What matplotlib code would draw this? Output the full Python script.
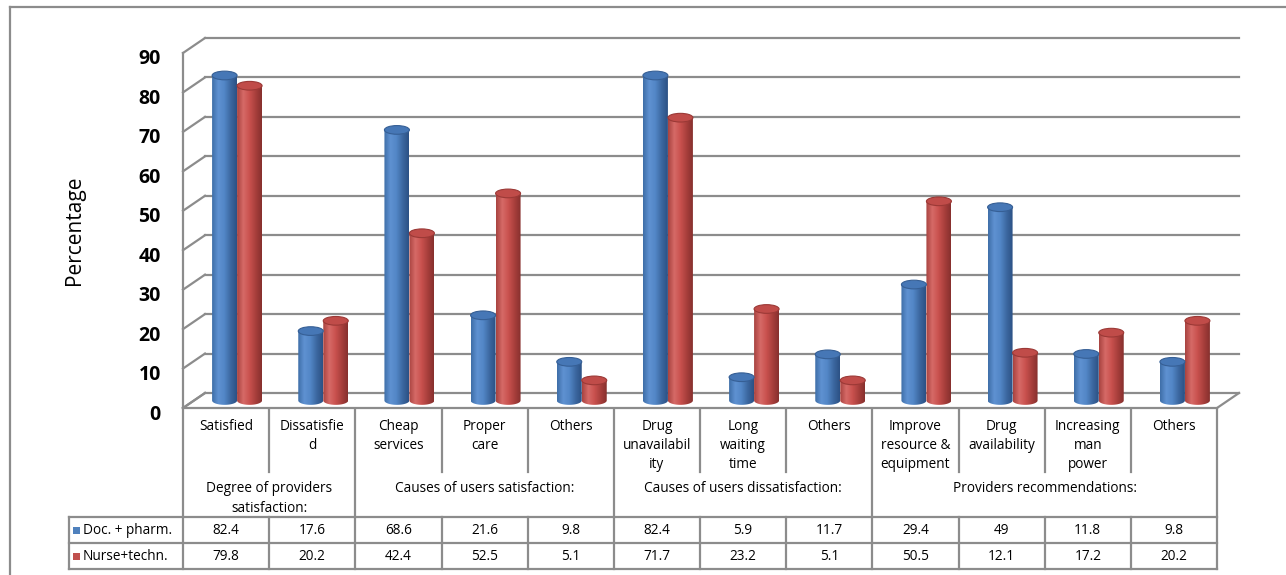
import numpy as np
import matplotlib
matplotlib.use("Agg")
import matplotlib.pyplot as plt
from matplotlib.patches import Ellipse, PathPatch, Rectangle
from matplotlib.path import Path
from matplotlib.colors import LinearSegmentedColormap
from matplotlib.lines import Line2D
import matplotlib.transforms as mtrans

# ---------------- data ----------------
categories = ["Satisfied", "Dissatisfie\nd", "Cheap\nservices", "Proper\ncare", "Others",
              "Drug\nunavailabil\nity", "Long\nwaiting\ntime", "Others",
              "Improve\nresource &\nequipment", "Drug\navailability", "Increasing\nman\npower", "Others"]
groups = ["Degree of providers\nsatisfaction:", "Causes of users satisfaction:",
          "Causes of users dissatisfaction:", "Providers recommendations:"]
group_sizes = [2, 3, 3, 4]
series_names = ["Doc. + pharm.", "Nurse+techn."]
doc_pharm = [82.4, 17.6, 68.6, 21.6, 9.8, 82.4, 5.9, 11.7, 29.4, 49, 11.8, 9.8]
nurse_techn = [79.8, 20.2, 42.4, 52.5, 5.1, 71.7, 23.2, 5.1, 50.5, 12.1, 17.2, 20.2]
doc_labels = ["82.4", "17.6", "68.6", "21.6", "9.8", "82.4", "5.9", "11.7", "29.4", "49", "11.8", "9.8"]
nurse_labels = ["79.8", "20.2", "42.4", "52.5", "5.1", "71.7", "23.2", "5.1", "50.5", "12.1", "17.2", "20.2"]
yticks = list(range(0, 100, 10))
ylabel = "Percentage"

# ---------------- style ----------------
W, H = 1286, 575
FONT = ["Open Sans", "DejaVu Sans"]
plt.rcParams["font.family"] = FONT
GRID = "#8c8c8c"
BLUE_GRAD = ["#3f6ea8", "#5f92d2", "#5286c6", "#3c68a0", "#2c5185"]
RED_GRAD = ["#a84340", "#d66a67", "#c9514e", "#a83f3c", "#87302e"]
BLUE_TOP = "#4677b6"
RED_TOP = "#c04c49"
TXT = "#000000"

fig = plt.figure(figsize=(W / 100, H / 100), dpi=100)

def px_box(x0, y0, x1, y1):
    return [x0 / W, 1 - y1 / H, (x1 - x0) / W, (y1 - y0) / H]

# main axes = front plane of the 3-D box
X0, X1, YTOP, YBOT = 183, 1217, 53, 408
ax = fig.add_axes(px_box(X0, YTOP, X1, YBOT))
n = len(categories)
ax.set_xlim(-0.5, n - 0.5)
ax.set_ylim(0, 90)
ax.set_aspect("auto")
for s in ax.spines.values():
    s.set_visible(False)
ax.set_xticks([])
ax.set_yticks(yticks)
ax.set_yticklabels([str(t) for t in yticks], fontsize=14, fontweight="bold", color=TXT)
ax.tick_params(axis="y", length=0, pad=16)
for lab in ax.get_yticklabels():
    lab.set_transform(lab.get_transform() + mtrans.ScaledTranslation(0, -4 / 100, fig.dpi_scale_trans))
ax.set_ylabel(ylabel, fontsize=15, color=TXT)
ax.yaxis.set_label_coords(-98 / (X1 - X0), 0.5)

ppx = (X1 - X0) / n          # pixels per x unit
ppy = (YBOT - YTOP) / 90.0   # pixels per y unit
DX, DY = 22 / ppx, 15 / ppy  # depth offset of the back wall
MX, MY = 11 / ppx, 7.5 / ppy # mid-depth plane where cylinders stand

# walls / gridlines
for t in yticks:
    ax.plot([-0.5 + DX, n - 0.5 + DX], [t + DY, t + DY], color=GRID, lw=1.6, clip_on=False, zorder=1)
    ax.plot([-0.5, -0.5 + DX], [t, t + DY], color=GRID, lw=1.6, clip_on=False, zorder=1)
ax.plot([-0.5, -0.5], [0, 90], color=GRID, lw=1.6, clip_on=False, zorder=1)
# floor
ax.plot([n - 0.5, n - 0.5 + DX], [0, DY], color=GRID, lw=1.6, clip_on=False, zorder=1)
ax.plot([-0.5, n - 0.5], [0, 0], color=GRID, lw=1.6, clip_on=False, zorder=2)
ax.plot([-0.5, -0.5 + DX], [0, DY], color=GRID, lw=1.6, clip_on=False, zorder=1)

# cylinders
bw = 0.29
eh = 2.2
cmap_b = LinearSegmentedColormap.from_list("b", BLUE_GRAD)
cmap_r = LinearSegmentedColormap.from_list("r", RED_GRAD)
grad = np.linspace(0, 1, 64).reshape(1, -1)

def cylinder(xc, v, cmap, topc):
    y0 = MY
    xl, xr = xc - bw / 2, xc + bw / 2
    th = np.linspace(np.pi, 2 * np.pi, 40)
    arc = np.column_stack([xc + bw / 2 * np.cos(th), y0 + eh / 2 * np.sin(th)])
    verts = [(xl, y0 + v)] + [tuple(p) for p in arc] + [(xr, y0 + v), (xl, y0 + v)]
    codes = [Path.MOVETO] + [Path.LINETO] * (len(verts) - 2) + [Path.CLOSEPOLY]
    body = PathPatch(Path(verts, codes), facecolor="none", edgecolor="none", transform=ax.transData)
    ax.add_patch(body)
    im = ax.imshow(grad, cmap=cmap, extent=[xl, xr, y0 - eh / 2, y0 + v], aspect="auto",
                   interpolation="bilinear", zorder=3, clip_on=True)
    im.set_clip_path(body)
    top = Ellipse((xc, y0 + v), bw, eh, facecolor=topc, edgecolor=cmap(0.85), lw=0.8, zorder=4)
    ax.add_patch(top)

for i in range(n):
    cylinder(i + MX - bw / 2, doc_pharm[i], cmap_b, BLUE_TOP)
    cylinder(i + MX + bw / 2, nurse_techn[i], cmap_r, RED_TOP)

ax.set_xlim(-0.5, n - 0.5)
ax.set_ylim(0, 90)
ax.set_aspect("auto")

# ---------------- data table ----------------
TX0, TY0, TY1 = 69, 409, 569
tax = fig.add_axes(px_box(TX0, TY0, X1, TY1))
legw = (X0 - TX0) / ppx
tax.set_xlim(-0.5 - legw, n - 0.5)
tax.set_ylim(TY1 - TY0, 0)
tax.axis("off")
r_cat, r_grp, r_d1, r_d2 = 63, 108, 134, 160
lk = dict(color=GRID, lw=1.6, clip_on=False)

tax.plot([-0.5 - legw, n - 0.5], [r_grp, r_grp], **lk)
tax.plot([-0.5 - legw, n - 0.5], [r_d1, r_d1], **lk)
tax.plot([-0.5 - legw, n - 0.5], [r_d2, r_d2], **lk)
tax.plot([-0.5 - legw, -0.5 - legw], [r_grp, r_d2], **lk)
bounds = np.cumsum([0] + group_sizes) - 0.5
for b in bounds:
    tax.plot([b, b], [0, r_d2], **lk)
for i in range(n - 1):
    b = i + 0.5
    if b in bounds:
        continue
    tax.plot([b, b], [0, r_cat], **lk)
    tax.plot([b, b], [r_grp, r_d2], **lk)

FS = 9.8
for i, c in enumerate(categories):
    for k, line in enumerate(c.split("\n")):
        tax.text(i, 17 + 19.5 * k, line, ha="center", va="center", fontsize=FS, color=TXT)
start = 0
for g, sz in zip(groups, group_sizes):
    xc = start + (sz - 1) / 2
    for k, line in enumerate(g.split("\n")):
        tax.text(xc, 80 + 19 * k, line, ha="center", va="center", fontsize=FS, color=TXT)
    start += sz
for i in range(n):
    tax.text(i, (r_grp + r_d1) / 2, doc_labels[i], ha="center", va="center", fontsize=FS, color=TXT)
    tax.text(i, (r_d1 + r_d2) / 2, nurse_labels[i], ha="center", va="center", fontsize=FS, color=TXT)

keyx = -0.5 - legw + 4 / ppx
for (name, col), ymid in zip([(series_names[0], "#4f81bd"), (series_names[1], "#c0504d")],
                             [(r_grp + r_d1) / 2, (r_d1 + r_d2) / 2]):
    tax.add_patch(Rectangle((keyx, ymid - 3.5), 7 / ppx, 7, facecolor=col, edgecolor="none", clip_on=False))
    tax.text(keyx + 10 / ppx, ymid, name, ha="left", va="center", fontsize=FS, color=TXT)

# outer chart border (left + top)
fig.add_artist(Line2D([10 / W, 10 / W], [0, 1 - 7 / H], color=GRID, lw=1.6))
fig.add_artist(Line2D([10 / W, 1], [1 - 7 / H, 1 - 7 / H], color=GRID, lw=1.6))

fig.savefig("out.png", dpi=100)
